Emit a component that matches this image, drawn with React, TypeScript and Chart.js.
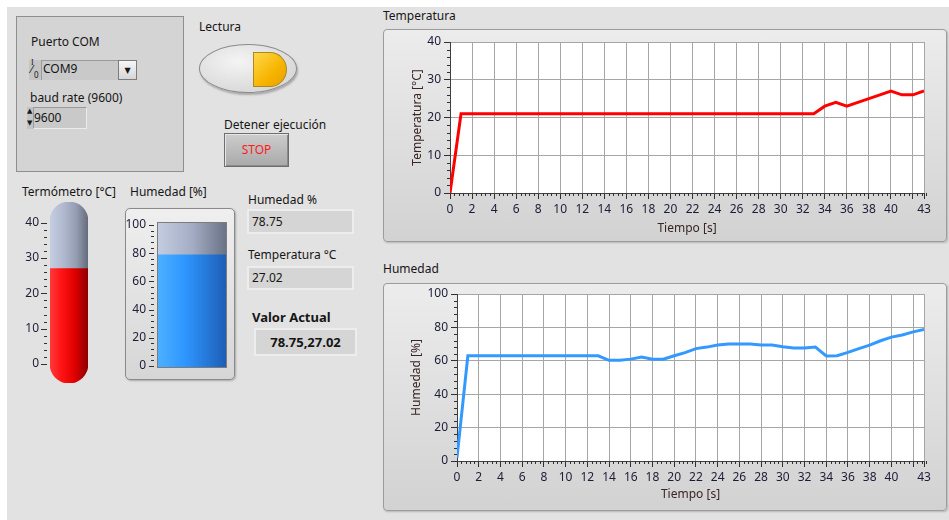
import React, { useEffect, useRef } from "react";
import { Chart, registerables } from "chart.js";

Chart.register(...registerables);

// ---------------- DATA ----------------
const tiempo = [0, 1, 2, 3, 4, 5, 6, 7, 8, 9, 10, 11, 12, 13, 14, 15, 16, 17, 18, 19, 20, 21, 22, 23, 24, 25, 26, 27, 28, 29, 30, 31, 32, 33, 34, 35, 36, 37, 38, 39, 40, 41, 42, 43];
const temperatura = [0, 21, 21, 21, 21, 21, 21, 21, 21, 21, 21, 21, 21, 21, 21, 21, 21, 21, 21, 21, 21, 21, 21, 21, 21, 21, 21, 21, 21, 21, 21, 21, 21, 21, 23, 24, 23, 24, 25, 26, 27, 26, 26, 27.02];
const humedad = [2, 63, 63, 63, 63, 63, 63, 63, 63, 63, 63, 63, 63, 63, 60.3, 60.3, 61, 62.2, 61, 61, 63, 64.9, 67.3, 68.2, 69.4, 70, 70, 70, 69.4, 69.4, 68.4, 67.6, 67.6, 68.2, 62.9, 63, 65, 67.3, 69.4, 72, 74.2, 75.5, 77.3, 78.75];
const tiempoTicks = [0, 2, 4, 6, 8, 10, 12, 14, 16, 18, 20, 22, 24, 26, 28, 30, 32, 34, 36, 38, 40, 42, 43];
const tiempoSinEtiqueta = [42];
const temperaturaTicks = [0, 10, 20, 30, 40];
const humedadTicks = [0, 20, 40, 60, 80, 100];
const termometroTicks = [0, 10, 20, 30, 40];
const tanqueTicks = [0, 20, 40, 60, 80, 100];
const humedadActual = 78.75;
const temperaturaActual = 27.02;

// ---------------- STYLE ----------------
const FONT = '"Noto Sans", "DejaVu Sans", sans-serif';
const TICK_COLOR = "#1c1c38";
const TITLE_COLOR = "#3a2424";
const GRID_COLOR = "#a6a6a6";
const PAGE_BG = "#e2e2e2";

const minorTicksPlugin = {
  id: "minorTicks",
  afterDraw(chart: any, _args: any, opts: any) {
    if (!opts || !opts.items) return;
    const ctx = chart.ctx;
    const area = chart.chartArea;
    ctx.save();
    for (const it of opts.items) {
      const scale = chart.scales[it.scale];
      if (!scale) continue;
      ctx.strokeStyle = it.color || "#303030";
      ctx.lineWidth = 1;
      ctx.beginPath();
      const n = Math.round((it.max - it.min) / it.step);
      for (let k = 0; k <= n; k++) {
        const v = Math.round((it.min + k * it.step) * 1000) / 1000;
        const isMajor = (it.majors || []).some((m: number) => Math.abs(m - v) < 1e-6);
        const len = isMajor ? it.majorLen : it.minorLen;
        if (!len) continue;
        const p = Math.round(scale.getPixelForValue(v)) + 0.5;
        if (it.axis === "y") {
          const x0 = area.left - (it.gap || 0);
          ctx.moveTo(x0 - len, p);
          ctx.lineTo(x0, p);
        } else {
          const y0 = area.bottom + (it.gap || 0);
          ctx.moveTo(p, y0);
          ctx.lineTo(p, y0 + len);
        }
      }
      ctx.stroke();
    }
    ctx.restore();
  },
};

const plotBgPlugin = {
  id: "plotBg",
  beforeDraw(chart: any, _a: any, opts: any) {
    if (!opts || !opts.color) return;
    const { ctx, chartArea: a } = chart;
    ctx.save();
    ctx.fillStyle = opts.color;
    ctx.fillRect(a.left, a.top, a.right - a.left, a.bottom - a.top);
    ctx.restore();
  },
  afterDatasetsDraw(chart: any, _a: any, opts: any) {
    if (!opts || !opts.frame) return;
    const { ctx, chartArea: a } = chart;
    ctx.save();
    ctx.strokeStyle = opts.frame;
    ctx.lineWidth = 1;
    ctx.strokeRect(a.left - 0.5, a.top - 0.5, a.right - a.left + 1, a.bottom - a.top + 1);
    ctx.restore();
  },
};

function noLabelPadding(s: any) {
  s.paddingTop = 0;
  s.paddingBottom = 0;
  s.paddingLeft = 0;
  s.paddingRight = 0;
}

function lineConfig(p: any) {
  return {
    type: "line",
    data: {
      datasets: [
        {
          data: tiempo.map((t, i) => ({ x: t, y: p.values[i] })),
          borderColor: p.color,
          borderWidth: 3,
          pointRadius: 0,
          tension: 0,
          fill: false,
        },
      ],
    },
    options: {
      animation: false,
      responsive: false,
      maintainAspectRatio: false,
      layout: { autoPadding: false, padding: { top: p.padTop, right: p.padRight, left: 0, bottom: 0 } },
      plugins: {
        legend: { display: false },
        tooltip: { enabled: false },
        plotBg: { color: "#ffffff" },
        minorTicks: {
          items: [
            { scale: "y", axis: "y", min: 0, max: p.yMax, step: p.yMinor, majors: p.yMajors, majorLen: 0, minorLen: 3, color: "#303030" },
            { scale: "x", axis: "x", min: 0, max: 43, step: 0.4, majors: tiempoTicks, majorLen: 0, minorLen: 3, color: "#303030" },
          ],
        },
      },
      scales: {
        x: {
          type: "linear",
          min: 0,
          max: 43,
          afterBuildTicks: (s: any) => {
            s.ticks = tiempoTicks.map((v) => ({ value: v }));
          },
          ticks: {
            autoSkip: false,
            maxRotation: 0,
            padding: 3,
            color: TICK_COLOR,
            font: { family: FONT, size: 12 },
            callback: (v: any) => (tiempoSinEtiqueta.includes(v) ? "" : String(v)),
          },
          grid: { color: GRID_COLOR, lineWidth: 1, tickLength: 6, tickColor: "#303030" },
          border: { display: true, color: "#404040", width: 1 },
          title: {
            display: true,
            text: "Tiempo [s]",
            color: TITLE_COLOR,
            font: { family: FONT, size: 12 },
            padding: { top: 0, bottom: p.xTitlePad },
          },
          afterFit: (s: any) => {
            s.height = p.xHeight;
            noLabelPadding(s);
          },
        },
        y: {
          type: "linear",
          min: 0,
          max: p.yMax,
          afterBuildTicks: (s: any) => {
            s.ticks = p.yMajors.map((v: number) => ({ value: v }));
          },
          ticks: { padding: 3, color: TICK_COLOR, font: { family: FONT, size: 12 } },
          grid: { color: GRID_COLOR, lineWidth: 1, tickLength: 6, tickColor: "#303030" },
          border: { display: true, color: "#404040", width: 1 },
          title: {
            display: true,
            text: p.yTitle,
            color: TITLE_COLOR,
            font: { family: FONT, size: 12 },
            padding: { top: p.yTitlePad, bottom: 0 },
          },
          afterFit: (s: any) => {
            s.width = p.yWidth;
            noLabelPadding(s);
          },
        },
      },
    },
    plugins: [plotBgPlugin, minorTicksPlugin],
  };
}

function hGrad(stops: [number, string][]) {
  return (ctx: any) => {
    const chart = ctx.chart;
    const a = chart.chartArea;
    if (!a) return stops[0][1];
    const g = chart.ctx.createLinearGradient(a.left, 0, a.right, 0);
    stops.forEach(([o, c]) => g.addColorStop(o, c));
    return g;
  };
}

function gaugeConfig(g: any) {
  return {
    type: "bar",
    data: {
      labels: [""],
      datasets: [
        {
          data: [[g.min, g.value]],
          backgroundColor: hGrad(g.fill),
          borderWidth: 0,
          borderSkipped: false,
          borderRadius: { topLeft: 0, topRight: 0, bottomLeft: g.rBottom, bottomRight: g.rBottom },
          barPercentage: 1,
          categoryPercentage: 1,
          grouped: false,
        },
        {
          data: [[g.value, g.max]],
          backgroundColor: hGrad(g.empty),
          borderWidth: 0,
          borderSkipped: false,
          borderRadius: { topLeft: g.rTop, topRight: g.rTop, bottomLeft: 0, bottomRight: 0 },
          barPercentage: 1,
          categoryPercentage: 1,
          grouped: false,
        },
      ],
    },
    options: {
      animation: false,
      responsive: false,
      maintainAspectRatio: false,
      layout: { autoPadding: false, padding: { top: g.padTop, right: g.padRight, bottom: g.padBottom, left: 0 } },
      plugins: {
        legend: { display: false },
        tooltip: { enabled: false },
        plotBg: { frame: g.frame },
        minorTicks: {
          items: [
            { scale: "y", axis: "y", min: g.majors[0], max: g.majors[g.majors.length - 1], step: g.minor, majors: g.majors, majorLen: g.majorLen, minorLen: g.minorLen, gap: g.gap, color: "#303030" },
          ],
        },
      },
      scales: {
        x: { display: false },
        y: {
          min: g.min,
          max: g.max,
          afterBuildTicks: (s: any) => {
            s.ticks = g.majors.map((v: number) => ({ value: v }));
          },
          ticks: { padding: g.labelPad, color: TICK_COLOR, font: { family: FONT, size: 12 } },
          grid: { display: false, drawTicks: false },
          border: { display: false },
          afterFit: (s: any) => {
            s.width = g.yWidth;
            noLabelPadding(s);
          },
        },
      },
    },
    plugins: [plotBgPlugin, minorTicksPlugin],
  };
}

function ChartCanvas({ config, left, top, width, height }: any) {
  const ref = useRef<HTMLCanvasElement | null>(null);
  useEffect(() => {
    if (!ref.current) return;
    const chart = new Chart(ref.current, config);
    return () => chart.destroy();
  }, []);
  return (
    <canvas
      ref={ref}
      width={width}
      height={height}
      style={{ position: "absolute", left, top, width, height }}
    />
  );
}

function Txt({ left, top, children, style }: any) {
  return (
    <div style={{ position: "absolute", left, top, lineHeight: "14px", whiteSpace: "nowrap", ...(style || {}) }}>
      {children}
    </div>
  );
}

const tempConfig = lineConfig({
  values: temperatura,
  color: "#ff0000",
  yMax: 40,
  yMajors: temperaturaTicks,
  yMinor: 2,
  yTitle: "Temperatura [°C]",
  yTitlePad: 27,
  xTitlePad: 6,
  yWidth: 67,
  xHeight: 49,
  padTop: 13,
  padRight: 23,
});

const humConfig = lineConfig({
  values: humedad,
  color: "#3399ff",
  yMax: 100,
  yMajors: humedadTicks,
  yMinor: 4,
  yTitle: "Humedad [%]",
  yTitlePad: 26,
  xTitlePad: 9,
  yWidth: 74,
  xHeight: 50,
  padTop: 11,
  padRight: 23,
});

const termConfig = gaugeConfig({
  value: temperaturaActual,
  min: -5.38,
  max: 45.86,
  majors: termometroTicks,
  minor: 2,
  fill: [
    [0, "#ff3a3a"],
    [0.3, "#ff1414"],
    [0.65, "#e00000"],
    [1, "#8c0000"],
  ],
  empty: [
    [0, "#c6cee2"],
    [0.35, "#b0b9cd"],
    [0.7, "#939cb0"],
    [1, "#646c7c"],
  ],
  rTop: 19,
  rBottom: 19,
  yWidth: 40,
  padTop: 7,
  padRight: 7,
  padBottom: 7,
  labelPad: 11,
  majorLen: 6,
  minorLen: 3,
  gap: 3,
  frame: null,
});

const tankConfig = gaugeConfig({
  value: humedadActual,
  min: -0.7,
  max: 101.4,
  majors: tanqueTicks,
  minor: 4,
  fill: [
    [0, "#4cb0ff"],
    [0.4, "#2e96ff"],
    [1, "#1e5eb6"],
  ],
  empty: [
    [0, "#c4cce2"],
    [0.5, "#a4adc3"],
    [1, "#6a7286"],
  ],
  rTop: 0,
  rBottom: 0,
  yWidth: 32,
  padTop: 11,
  padRight: 6,
  padBottom: 7,
  labelPad: 12,
  majorLen: 5,
  minorLen: 3,
  gap: 4,
  frame: "#7c7c7c",
});

const field: any = {
  position: "absolute",
  background: "#d5d5d5",
  border: "2px solid #ededed",
  boxSizing: "border-box",
};

export default function App() {
  return (
    <div
      style={{
        position: "fixed",
        left: 0,
        top: 0,
        width: 949,
        height: 520,
        background: "#ffffff",
        overflow: "hidden",
        fontFamily: FONT,
        fontSize: 12,
        color: "#161616",
      }}
    >
      <div style={{ position: "absolute", left: 7, top: 7, right: 0, bottom: 0, background: PAGE_BG }} />

      {/* Configuration box */}
      <div style={{ position: "absolute", left: 16, top: 16, width: 168, height: 156, background: "#d4d4d4", border: "1px solid #8e8e8e", boxSizing: "border-box" }} />
      <Txt left={31} top={35}>Puerto COM</Txt>
      <div style={{ position: "absolute", left: 29, top: 60, width: 12, height: 20, background: "#c4c4c4" }} />
      <div style={{ position: "absolute", left: 31, top: 58, fontSize: 8, lineHeight: "10px", fontFamily: "serif" }}>I</div>
      <div style={{ position: "absolute", left: 31, top: 63, fontSize: 11, lineHeight: "12px" }}>⁄</div>
      <div style={{ position: "absolute", left: 34, top: 70, fontSize: 8, lineHeight: "10px" }}>0</div>
      <div style={{ position: "absolute", left: 41, top: 60, width: 77, height: 20, background: "#c9c9c9", borderTop: "1px solid #9a9a9a", borderLeft: "1px solid #9a9a9a", boxSizing: "border-box" }} />
      <Txt left={43} top={62}>COM9</Txt>
      <div style={{ position: "absolute", left: 118, top: 60, width: 19, height: 20, background: "linear-gradient(#f6f6f6, #d6d6d6)", border: "1px solid #7c7c7c", boxSizing: "border-box", fontSize: 8, lineHeight: "18px", textAlign: "center" }}>▼</div>
      <Txt left={30} top={91}>baud rate (9600)</Txt>
      <div style={{ position: "absolute", left: 27, top: 107, width: 6, height: 22, background: "#c4c4c4" }} />
      <div style={{ position: "absolute", left: 27, top: 106, fontSize: 7, lineHeight: "9px" }}>▲</div>
      <div style={{ position: "absolute", left: 27, top: 118, fontSize: 7, lineHeight: "9px" }}>▼</div>
      <div style={{ position: "absolute", left: 33, top: 107, width: 54, height: 22, background: "#c9c9c9", borderTop: "1px solid #9a9a9a", borderLeft: "1px solid #9a9a9a", borderBottom: "1px solid #ececec", borderRight: "1px solid #ececec", boxSizing: "border-box" }} />
      <Txt left={34} top={111}>9600</Txt>

      {/* Lectura LED */}
      <Txt left={199} top={20}>Lectura</Txt>
      <div style={{ position: "absolute", left: 199, top: 44, width: 98, height: 49, borderRadius: "50%", background: "radial-gradient(ellipse at 40% 35%, #f4f4f4, #dadada 70%, #cfcfcf)", border: "1px solid #8c8c8c", boxSizing: "border-box", boxShadow: "1px 2px 2px rgba(0,0,0,0.25)" }} />
      <div style={{ position: "absolute", left: 253, top: 52, width: 34, height: 35, borderRadius: "0 50% 50% 0 / 0 50% 50% 0", background: "linear-gradient(135deg, #ffd84a, #f6b400 60%, #e8a000)", border: "1px solid #a88a20", boxSizing: "border-box" }} />

      {/* STOP */}
      <Txt left={224} top={118}>Detener ejecución</Txt>
      <div style={{ position: "absolute", left: 224, top: 133, width: 65, height: 34, background: "linear-gradient(#cdcdcd, #a9a9a9)", border: "1px solid #6e6e6e", boxSizing: "border-box", boxShadow: "inset 1px 1px 0 #e6e6e6, inset -1px -1px 0 #8a8a8a", color: "#ff1a1a", textAlign: "center", lineHeight: "32px" }}>STOP</div>

      {/* Thermometer */}
      <Txt left={22} top={185}>Termómetro [°C]</Txt>
      <ChartCanvas config={termConfig} left={10} top={195} width={85} height={195} />

      {/* Tank */}
      <Txt left={130} top={185}>Humedad [%]</Txt>
      <div style={{ position: "absolute", left: 125, top: 208, width: 110, height: 172, borderRadius: 5, border: "1px solid #8a8a8a", boxSizing: "border-box", background: "linear-gradient(#efefef, #d6d6d6)", boxShadow: "1px 1px 2px rgba(0,0,0,0.25)" }} />
      <ChartCanvas config={tankConfig} left={126} top={212} width={106} height={162} />

      {/* Numeric indicators */}
      <Txt left={248} top={193}>Humedad %</Txt>
      <div style={{ ...field, left: 247, top: 209, width: 107, height: 25 }} />
      <Txt left={252} top={215}>{String(humedadActual)}</Txt>
      <Txt left={248} top={248}>Temperatura °C</Txt>
      <div style={{ ...field, left: 247, top: 266, width: 107, height: 24 }} />
      <Txt left={252} top={271}>{String(temperaturaActual)}</Txt>
      <Txt left={252} top={310} style={{ fontWeight: "bold", fontSize: 13 }}>Valor Actual</Txt>
      <div style={{ ...field, left: 254, top: 328, width: 103, height: 28, fontWeight: "bold", fontSize: 13, textAlign: "center", lineHeight: "24px" }}>
        {String(humedadActual) + "," + String(temperaturaActual)}
      </div>

      {/* Temperature graph */}
      <Txt left={383} top={9}>Temperatura</Txt>
      <div style={{ position: "absolute", left: 383, top: 29, width: 564, height: 213, borderRadius: 4, border: "1px solid #9c9c9c", boxSizing: "border-box", background: "linear-gradient(#ececec, #d2d2d2)", boxShadow: "1px 1px 2px rgba(0,0,0,0.2)" }} />
      <ChartCanvas config={tempConfig} left={383} top={29} width={564} height={213} />

      {/* Humidity graph */}
      <Txt left={383} top={262}>Humedad</Txt>
      <div style={{ position: "absolute", left: 383, top: 283, width: 564, height: 228, borderRadius: 4, border: "1px solid #9c9c9c", boxSizing: "border-box", background: "linear-gradient(#ececec, #d2d2d2)", boxShadow: "1px 1px 2px rgba(0,0,0,0.2)" }} />
      <ChartCanvas config={humConfig} left={383} top={283} width={564} height={228} />
    </div>
  );
}
